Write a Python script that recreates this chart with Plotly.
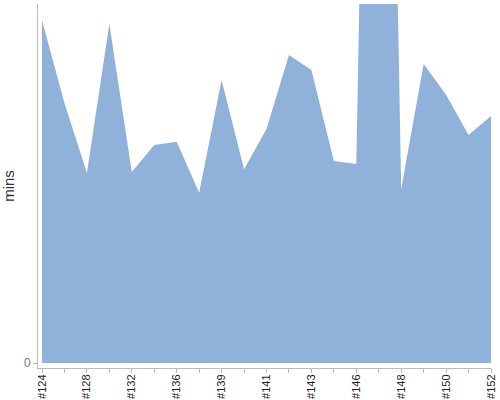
import plotly.graph_objects as go

episodes = ["#124", "#126", "#128", "#130", "#132", "#134", "#136", "#138", "#139", "#140",
            "#141", "#142", "#143", "#145", "#146", "#147", "#148", "#149", "#150", "#151", "#152"]
mins = [95.5, 72.4, 52.9, 94.4, 53.2, 60.7, 61.6, 47.4, 78.8, 54.0,
        65.2, 85.8, 81.6, 56.3, 55.4, 390.0, 48.5, 83.3, 74.7, 63.5, 68.8]

# only every other episode gets a label
tick_text = [e if i % 2 == 0 else "" for i, e in enumerate(episodes)]

fig = go.Figure(go.Scatter(
    x=episodes,
    y=mins,
    mode="none",
    fill="tozeroy",
    fillcolor="#8fb1da",
    hovertemplate="%{x}: %{y} mins<extra></extra>",
))

fig.update_layout(
    width=500,
    height=400,
    margin=dict(l=38, r=9, t=4, b=32),
    plot_bgcolor="white",
    paper_bgcolor="white",
    showlegend=False,
    font=dict(family="Liberation Sans, Arial, sans-serif"),
)

fig.update_xaxes(
    type="category",
    range=[-0.178, 20],
    tickmode="array",
    tickvals=episodes,
    ticktext=tick_text,
    tickangle=-90,
    ticks="outside",
    ticklen=4,
    tickcolor="#bbbbbb",
    tickfont=dict(size=11, color="#222222"),
    ticklabelstandoff=-3,
    showline=True,
    linecolor="#bbbbbb",
    linewidth=1,
    showgrid=False,
    zeroline=False,
    automargin=False,
)

fig.update_yaxes(
    range=[-1.39, 100],
    tickvals=[0],
    ticktext=["0"],
    ticks="outside",
    ticklen=4,
    tickcolor="#bbbbbb",
    tickfont=dict(size=12, color="#777777"),
    title=dict(text="mins", font=dict(size=15, color="#333333"), standoff=8),
    showline=True,
    linecolor="#bbbbbb",
    linewidth=1,
    showgrid=False,
    zeroline=False,
    automargin=False,
)

# drop the page's default body margin so the chart sits at the window corner
fig.write_html(
    "out.html",
    config={"displayModeBar": False},
    post_script="document.body.style.margin='0';",
)
